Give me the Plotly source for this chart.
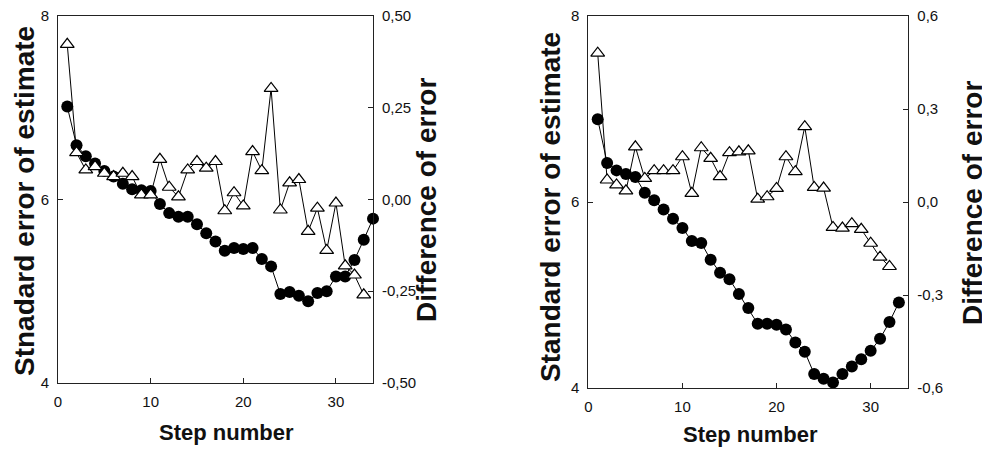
import plotly.graph_objects as go

# ---------------- data ----------------
steps_left_se = list(range(1, 35))
left_se = [7.01, 6.59, 6.47, 6.39, 6.31, 6.25, 6.17, 6.11, 6.10, 6.09,
           5.95, 5.85, 5.81, 5.81, 5.73, 5.63, 5.54, 5.44, 5.47, 5.46,
           5.47, 5.35, 5.27, 4.97, 4.99, 4.95, 4.89, 4.98, 5.00, 5.16,
           5.16, 5.34, 5.56, 5.79]
steps_left_diff = list(range(1, 34))
left_diff = [0.422, 0.127, 0.080, 0.089, 0.071, 0.062, 0.071, 0.062, 0.012, 0.012,
             0.109, 0.033, 0.007, 0.080, 0.103, 0.085, 0.103, -0.031, 0.018, -0.018,
             0.130, 0.078, 0.302, -0.029, 0.045, 0.054, -0.087, -0.024, -0.139, -0.010,
             -0.181, -0.206, -0.260]

steps_right_se = list(range(1, 34))
right_se = [6.89, 6.42, 6.34, 6.30, 6.27, 6.10, 6.02, 5.92, 5.82, 5.72,
            5.58, 5.56, 5.38, 5.24, 5.17, 5.01, 4.86, 4.69, 4.69, 4.68,
            4.63, 4.49, 4.39, 4.15, 4.10, 4.06, 4.15, 4.23, 4.31, 4.40,
            4.53, 4.71, 4.92]
steps_right_diff = list(range(1, 33))
right_diff = [0.48, 0.071, 0.055, 0.036, 0.178, 0.076, 0.101, 0.101, 0.101, 0.146,
              0.028, 0.175, 0.141, 0.082, 0.159, 0.162, 0.165, 0.009, 0.017, 0.044,
              0.146, 0.098, 0.243, 0.047, 0.045, -0.082, -0.084, -0.070, -0.088, -0.133,
              -0.178, -0.208]

se_ticks = [4, 6, 8]
se_ticktext = ["4", "6", "8"]
x_ticks = [0, 10, 20, 30]
left_diff_ticks = [-0.5, -0.25, 0.0, 0.25, 0.5]
left_diff_text = ["-0,50", "-0,25", "0,00", "0,25", "0,50"]
right_diff_ticks = [-0.6, -0.3, 0.0, 0.3, 0.6]
right_diff_text = ["-0,6", "-0,3", "0,0", "0,3", "0,6"]

W, H = 982, 455
OFF = 8  # page body margin: figure starts 8px in from the window corner
FONT = "Arial, Liberation Sans, sans-serif"
LINE = "#222222"

fig = go.Figure()

dot_style = dict(mode="lines+markers", line=dict(color="black", width=1),
                 marker=dict(symbol="circle", size=12, color="black"),
                 showlegend=False, cliponaxis=False)
tri_style = dict(mode="lines+markers", line=dict(color="black", width=1),
                 marker=dict(symbol="triangle-up", size=12, color="white",
                             line=dict(color="black", width=1.2)),
                 showlegend=False, cliponaxis=False)

fig.add_trace(go.Scatter(x=steps_left_se, y=left_se, xaxis="x", yaxis="y", **dot_style))
fig.add_trace(go.Scatter(x=steps_left_diff, y=left_diff, xaxis="x", yaxis="y2", **tri_style))
fig.add_trace(go.Scatter(x=steps_right_se, y=right_se, xaxis="x2", yaxis="y3", **dot_style))
fig.add_trace(go.Scatter(x=steps_right_diff, y=right_diff, xaxis="x2", yaxis="y4", **tri_style))

def px_x(p):
    return (p - OFF) / W

def px_y(p):
    return 1 - (p - OFF) / H

tickfont = dict(family=FONT, size=15, color="#111111")

xcommon = dict(range=[0, 34], tickvals=x_ticks, ticks="inside", ticklen=5, tickcolor=LINE,
               showline=True, linecolor=LINE, linewidth=1, mirror=True,
               showgrid=False, zeroline=False, tickfont=tickfont, ticklabelstandoff=5,
               ticklabeloverflow="allow")
ycommon = dict(ticks="inside", ticklen=5, tickcolor=LINE, showline=True, linecolor=LINE,
               linewidth=1, showgrid=False, zeroline=False, tickfont=tickfont,
               ticklabelstandoff=5, ticklabeloverflow="allow")

fig.update_layout(
    width=W, height=H,
    margin=dict(l=0, r=0, t=0, b=0, autoexpand=False),
    paper_bgcolor="white", plot_bgcolor="white",
    xaxis=dict(domain=[px_x(58), px_x(373)], anchor="y", **xcommon),
    yaxis=dict(domain=[px_y(383), px_y(15.7)], anchor="x", range=[4, 8],
               tickvals=se_ticks, ticktext=se_ticktext, side="left", **ycommon),
    yaxis2=dict(overlaying="y", anchor="x", side="right", range=[-0.5, 0.5],
                tickvals=left_diff_ticks, ticktext=left_diff_text, **ycommon),
    xaxis2=dict(domain=[px_x(588.3), px_x(908.3)], anchor="y3", **xcommon),
    yaxis3=dict(domain=[px_y(388), px_y(16)], anchor="x2", range=[4, 8],
                tickvals=se_ticks, ticktext=se_ticktext, side="left", **ycommon),
    yaxis4=dict(overlaying="y3", anchor="x2", side="right", range=[-0.6, 0.6],
                tickvals=right_diff_ticks, ticktext=right_diff_text, **ycommon),
)

title_font_y = dict(family=FONT, size=28, color="#111111")
title_font_d = dict(family=FONT, size=28, color="#111111")
title_font_x = dict(family=FONT, size=22, color="#111111")

def add_title(text, xp, yp, angle, font):
    fig.add_annotation(text="<b>%s</b>" % text, x=px_x(xp), y=px_y(yp), xref="paper",
                       yref="paper", showarrow=False, textangle=angle, font=font,
                       xanchor="center", yanchor="middle")

add_title("Stnadard error of estimate", 24, 201, -90, title_font_y)
add_title("Difference of error", 426, 200, -90, title_font_d)
add_title("Standard error of estimate", 550, 207, -90, title_font_y)
add_title("Difference of error", 972, 203, -90, title_font_d)
add_title("Step number", 226, 432, 0, title_font_x)
add_title("Step number", 750, 434, 0, title_font_x)

fig.write_html("out.html")
